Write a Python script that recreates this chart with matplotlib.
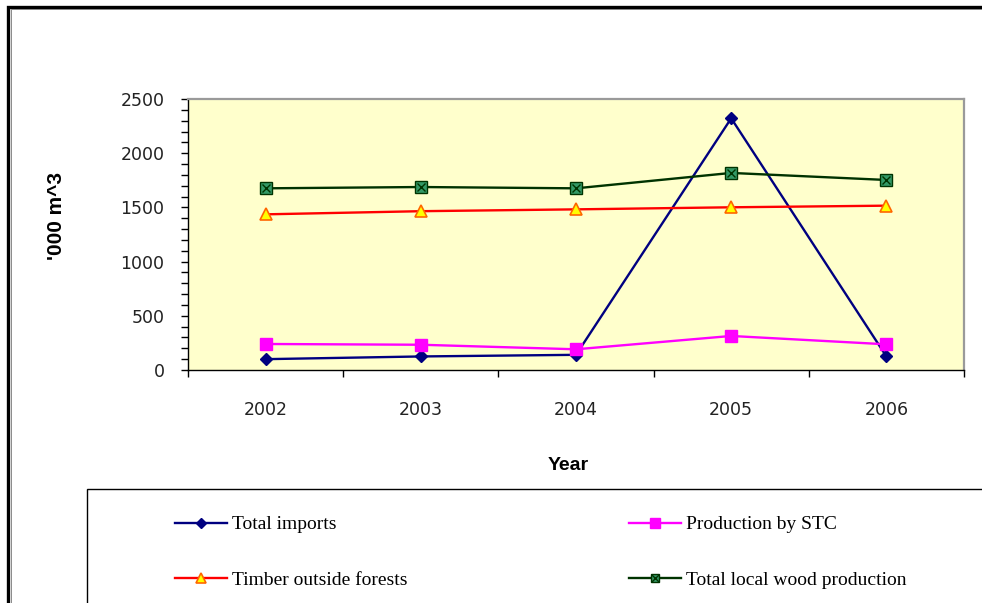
import matplotlib
matplotlib.use("Agg")
import matplotlib.pyplot as plt
from matplotlib.patches import Rectangle
from matplotlib.legend_handler import HandlerTuple
from matplotlib.ticker import MultipleLocator, FixedLocator, NullFormatter
import numpy as np

years = ["2002", "2003", "2004", "2005", "2006"]
total_imports = [100, 125, 140, 2322, 125]
production_stc = [240, 233, 191, 314, 237]
timber_outside = [1436, 1465, 1482, 1501, 1516]
total_local_wood = [1676, 1688, 1676, 1818, 1753]

W, H = 982, 603
fig = plt.figure(figsize=(W / 100, H / 100), dpi=100)
fig.patch.set_facecolor("white")

# plot area in pixel terms
left, right, top, bottom = 188, 964, 99, 370
ax = fig.add_axes([left / W, 1 - bottom / H, (right - left) / W, (bottom - top) / H])
ax.set_facecolor("#FFFFCC")

x = np.arange(len(years))
l1, = ax.plot(x, total_imports, color="#000080", lw=1.7, marker="D", ms=6.5,
              mfc="#000080", mec="#000080")
l2, = ax.plot(x, production_stc, color="#FF00FF", lw=1.7, marker="s", ms=8.5,
              mfc="#FF00FF", mec="#FF00FF")
l3, = ax.plot(x, timber_outside, color="#FF0000", lw=1.7, marker="^", ms=8.5,
              mfc="#FFFF00", mec="#FF6600", mew=1.2)
l4, = ax.plot(x, total_local_wood, color="#003300", lw=1.7, marker="s", ms=8,
              mfc="#339966", mec="#003300", mew=1.0)
l4x, = ax.plot(x, total_local_wood, ls="none", marker="x", ms=5.5,
               mec="#003300", mew=1.0)

ax.set_xlim(-0.5, len(years) - 0.5)
ax.set_ylim(0, 2500)

# category boundaries get the tick marks, the centres get the labels
ax.xaxis.set_major_locator(FixedLocator(np.arange(-0.5, len(years), 1.0)))
ax.xaxis.set_major_formatter(NullFormatter())
ax.set_xticks(x, years, minor=True)
ax.tick_params(axis="x", which="major", direction="out", length=5, width=1, color="black")
ax.tick_params(axis="x", which="minor", length=0, pad=22, labelsize=12.5, labelcolor="#222222")

ax.yaxis.set_major_locator(MultipleLocator(500))
ax.yaxis.set_minor_locator(MultipleLocator(100))
ax.tick_params(axis="y", which="both", direction="out", length=5, width=1, color="black")
ax.tick_params(axis="y", which="major", pad=12, labelsize=12.5, labelcolor="#222222")

for s in ["left", "bottom"]:
    ax.spines[s].set_color("black")
    ax.spines[s].set_linewidth(1.0)
for s in ["top", "right"]:
    ax.spines[s].set_color("#9A9A9A")
    ax.spines[s].set_linewidth(1.6)

fig.text(57 / W, 1 - 216 / H, "'000 m^3", rotation=90, ha="center", va="center",
         fontsize=15, fontweight="bold", family="Liberation Sans")
fig.text(568 / W, 1 - 465 / H, "Year", ha="center", va="center",
         fontsize=14, fontweight="bold", family="Liberation Sans")

# outer chart border, runs off the right and bottom edges
fig.add_artist(Rectangle((8 / W, -1), 3, 1 - 6.5 / H + 1, transform=fig.transFigure,
                         fill=False, lw=2.4, ec="black", clip_on=False))
fig.add_artist(Rectangle((10.5 / W, -1), 3, 1 - 9 / H + 1, transform=fig.transFigure,
                         fill=False, lw=0.6, ec="#777777", clip_on=False))
# legend box
fig.add_artist(Rectangle((87 / W, -1), 3, 1 - 489 / H + 1, transform=fig.transFigure,
                         fill=False, lw=1.0, ec="black", clip_on=False))

leg_font = {"family": "Liberation Serif", "size": 14}
common = dict(loc="upper left", frameon=False, borderpad=0, handlelength=2.7,
              handletextpad=0.25, labelspacing=1.95, prop=leg_font,
              handler_map={tuple: HandlerTuple(ndivide=1)})
leg1 = fig.legend([l1, l3], ["Total imports", "Timber outside forests"],
                  bbox_to_anchor=(165 / W, 1 - 506 / H), **common)
leg2 = fig.legend([l2, (l4, l4x)], ["Production by STC", "Total local wood production"],
                  bbox_to_anchor=(619 / W, 1 - 506 / H), **common)
for leg in (leg1, leg2):
    for h in leg.legend_handles:
        if hasattr(h, "set_markersize"):
            h.set_markersize(h.get_markersize() * 0.8)

fig.savefig("out.png", dpi=100)
